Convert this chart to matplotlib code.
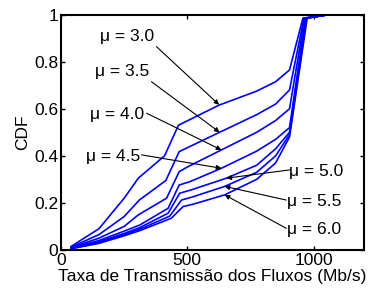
import matplotlib
matplotlib.use("Agg")
import matplotlib.pyplot as plt

plt.rcParams['font.family'] = ['Liberation Sans', 'DejaVu Sans']

mus = ["3.0", "3.5", "4.0", "4.5", "5.0", "5.5", "6.0"]

x_mu30 = [40, 150, 250, 306, 410, 465, 625, 775, 850, 905, 958, 1060]
y_mu30 = [0.015, 0.09, 0.22, 0.305, 0.40, 0.53, 0.615, 0.675, 0.715, 0.765, 0.985, 1.0]

x_mu35 = [40, 150, 250, 310, 415, 468, 628, 775, 850, 905, 962, 1060]
y_mu35 = [0.012, 0.065, 0.142, 0.212, 0.295, 0.418, 0.50, 0.575, 0.62, 0.68, 0.985, 1.0]

x_mu40 = [40, 150, 250, 306, 418, 468, 503, 635, 775, 850, 905, 965, 1060]
y_mu40 = [0.01, 0.05, 0.10, 0.149, 0.22, 0.333, 0.354, 0.425, 0.50, 0.55, 0.60, 0.985, 1.0]

x_mu45 = [40, 150, 250, 312, 424, 468, 510, 635, 775, 850, 905, 968, 1060]
y_mu45 = [0.008, 0.04, 0.08, 0.106, 0.177, 0.276, 0.29, 0.347, 0.42, 0.47, 0.52, 0.985, 1.0]

x_mu50 = [40, 150, 250, 312, 424, 470, 515, 655, 775, 850, 905, 970, 1060]
y_mu50 = [0.007, 0.035, 0.07, 0.095, 0.156, 0.241, 0.255, 0.305, 0.36, 0.43, 0.50, 0.985, 1.0]

x_mu55 = [40, 150, 250, 312, 431, 477, 520, 648, 775, 850, 905, 972, 1060]
y_mu55 = [0.006, 0.03, 0.065, 0.088, 0.144, 0.212, 0.225, 0.27, 0.33, 0.40, 0.49, 0.985, 1.0]

x_mu60 = [40, 150, 250, 312, 437, 483, 525, 648, 775, 850, 905, 975, 1060]
y_mu60 = [0.005, 0.028, 0.06, 0.082, 0.135, 0.184, 0.195, 0.234, 0.30, 0.37, 0.48, 0.985, 1.0]

series = [(x_mu30, y_mu30), (x_mu35, y_mu35), (x_mu40, y_mu40), (x_mu45, y_mu45),
          (x_mu50, y_mu50), (x_mu55, y_mu55), (x_mu60, y_mu60)]

# label text positions and arrow (start, tip) in data coords
label_pos = [(260, 0.906), (240, 0.758), (220, 0.574), (207, 0.397),
             (1010, 0.333), (1004, 0.205), (1004, 0.085)]
arrow_start = [(378, 0.864), (358, 0.715), (339, 0.581), (319, 0.404),
               (905, 0.34), (892, 0.212), (892, 0.092)]
arrow_tip = [(626, 0.617), (628, 0.50), (635, 0.425), (635, 0.347),
             (655, 0.305), (648, 0.27), (648, 0.234)]

xticks = [0, 500, 1000]
yticks = [0, 0.2, 0.4, 0.6, 0.8, 1]
ytick_labels = ["0", "0.2", "0.4", "0.6", "0.8", "1"]

FS = 12.5

fig = plt.figure(figsize=(3.77, 2.93), dpi=100)
ax = fig.add_axes([0.162, 0.147, 0.8035, 0.803])

for xs, ys in series:
    ax.plot(xs, ys, color='#0000ff', lw=1.2)

for mu, (tx, ty), (sx, sy), (ex, ey) in zip(mus, label_pos, arrow_start, arrow_tip):
    ax.text(tx, ty, "\u03bc = " + mu, ha='center', va='center', fontsize=FS)
    ax.annotate("", xy=(ex, ey), xytext=(sx, sy),
                arrowprops=dict(arrowstyle='-|>', color='k', lw=0.8,
                                mutation_scale=7, shrinkA=0, shrinkB=0))

ax.set_xlim(0, 1200)
ax.set_ylim(0, 1)
ax.set_xticks(xticks)
ax.set_yticks(yticks)
ax.set_yticklabels(ytick_labels)
ax.tick_params(direction='in', length=3, width=1, top=True, right=True,
               labelsize=FS, pad=2)
for s in ax.spines.values():
    s.set_linewidth(1.5)

ax.set_xlabel("Taxa de Transmiss\u00e3o dos Fluxos (Mb/s)", fontsize=FS, labelpad=1)
ax.set_ylabel("CDF", fontsize=FS, labelpad=3)

fig.savefig("out.png", dpi=100)
